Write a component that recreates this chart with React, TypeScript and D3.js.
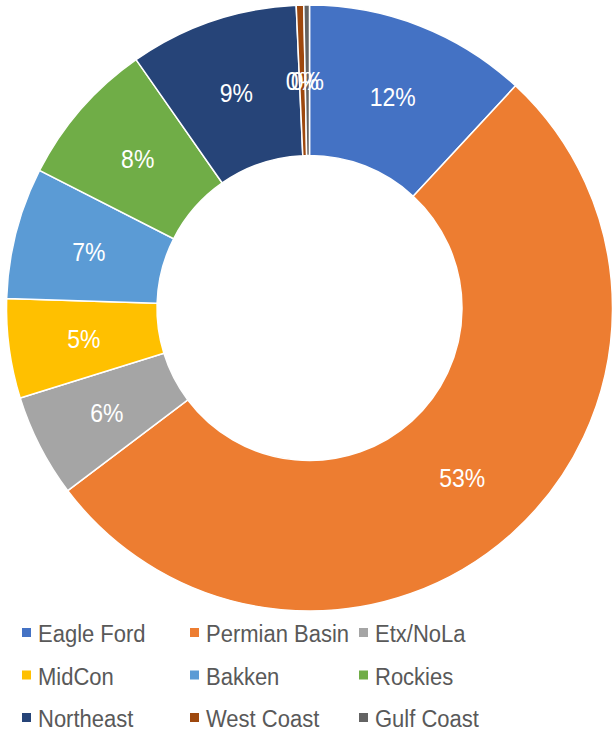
import React from "react";
import * as d3 from "d3";

const categories = ["Eagle Ford", "Permian Basin", "Etx/NoLa", "MidCon", "Bakken", "Rockies", "Northeast", "West Coast", "Gulf Coast"];
const values = [11.9, 52.8, 5.5, 5.3, 7.0, 7.8, 9.0, 0.4, 0.3];
const colors = ["#4472C4", "#ED7D31", "#A5A5A5", "#FFC000", "#5B9BD5", "#70AD47", "#264478", "#9E480E", "#636363"];

const W = 614, H = 735;
const cx = 309.5, cy = 308, R = 303, r0 = 152.5;
const SY = 1.09;

export default function App() {
  const data = categories.map((c, i) => ({ name: c, value: values[i], color: colors[i] }));
  const total = d3.sum(values);
  const pie = d3.pie<any>().sort(null).value((d: any) => d.value);
  const arcs = pie(data);
  const arc = d3.arc<any>().innerRadius(r0).outerRadius(R);
  const fmt = (v: number) => `${Math.round((v / total) * 100)}%`;

  const colX = [22, 190, 359];
  const rowY = [642, 684.5, 727];

  return (
    <svg width={W} height={H} style={{ position: "absolute", left: 0, top: 0, fontFamily: "Liberation Sans, Arial, sans-serif" }}>
      <rect width={W} height={H} fill="#fff" />
      <g transform={`translate(${cx},${cy})`}>
        {arcs.map((a, i) => (
          <path key={i} d={arc(a) as string} fill={a.data.color} stroke="#fff" strokeWidth={1.5} />
        ))}
        {arcs.map((a, i) => {
          const [x, y] = arc.centroid(a);
          return (
            <text key={i} transform={`translate(${x},${y + 1}) scale(1,${SY})`} dy="0.35em" textAnchor="middle" fill="#fff" fontSize={23}>
              {fmt(a.data.value)}
            </text>
          );
        })}
      </g>
      {data.map((d, i) => {
        const col = i % 3, row = Math.floor(i / 3);
        return (
          <g key={i}>
            <rect x={colX[col]} y={rowY[row] - 14} width={9} height={9} fill={d.color} />
            <text transform={`translate(${colX[col] + 16},${rowY[row]}) scale(1,${SY})`} fontSize={22} fill="#595959">{d.name}</text>
          </g>
        );
      })}
    </svg>
  );
}
